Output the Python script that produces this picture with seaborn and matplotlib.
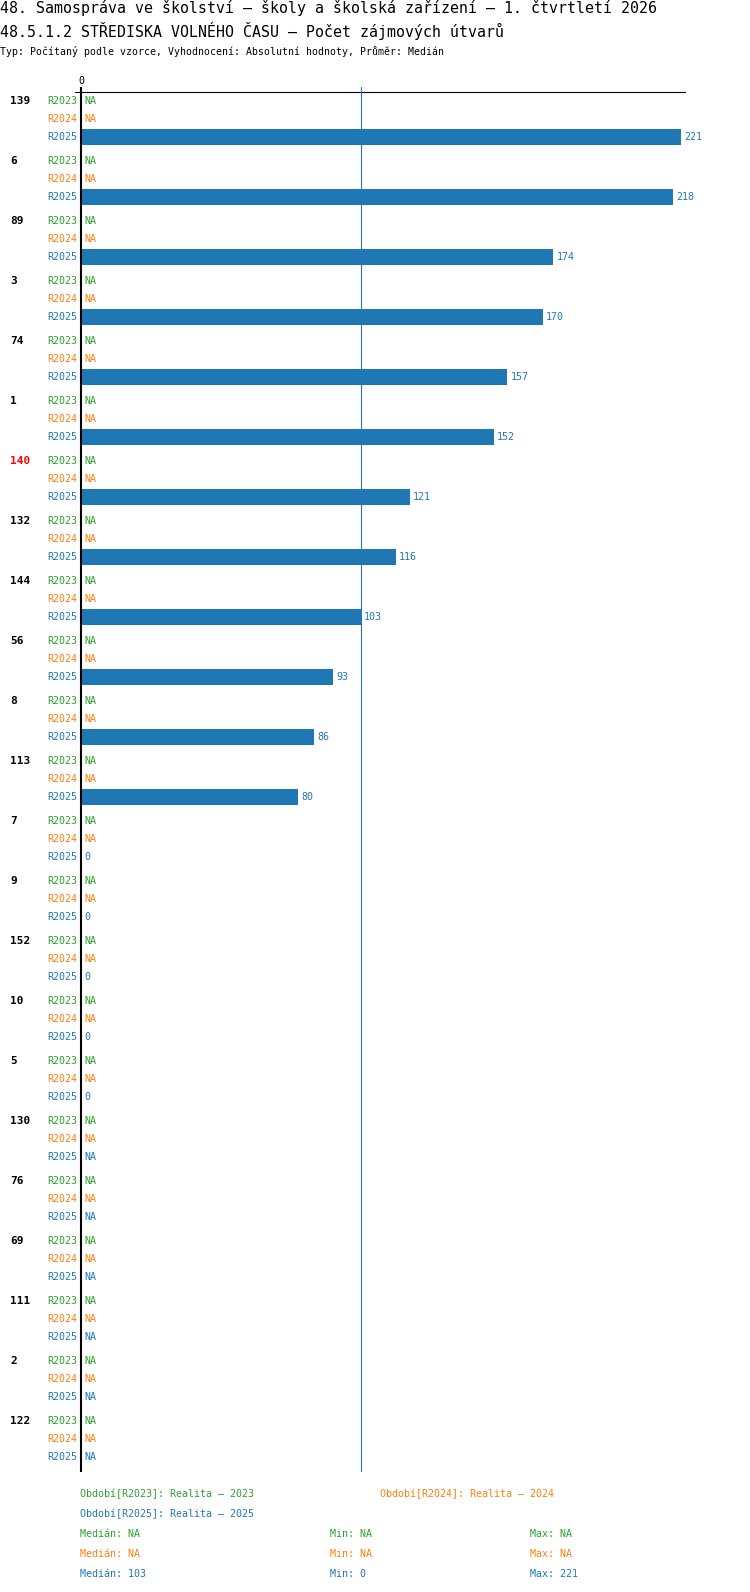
import numpy as np
import pandas as pd
import matplotlib
matplotlib.use("Agg")
import matplotlib.pyplot as plt
import matplotlib.transforms as mtransforms
import seaborn as sns

# data
groups = ["139", "6", "89", "3", "74", "1", "140", "132", "144", "56", "8", "113",
          "7", "9", "152", "10", "5", "130", "76", "69", "111", "2", "122"]
highlighted = ["140"]
periods = ["R2023", "R2024", "R2025"]
period_names = ["Realita – 2023", "Realita – 2024", "Realita – 2025"]
r2023 = [np.nan] * len(groups)
r2024 = [np.nan] * len(groups)
r2025 = [221, 218, 174, 170, 157, 152, 121, 116, 103, 93, 86, 80, 0, 0, 0, 0, 0,
         np.nan, np.nan, np.nan, np.nan, np.nan, np.nan]
colors = ["#2ca02c", "#ff7f0e", "#1f77b4"]

title1 = "48. Samospráva ve školství – školy a školská zařízení – 1. čtvrtletí 2026"
title2 = "48.5.1.2 STŘEDISKA VOLNÉHO ČASU – Počet zájmových útvarů"
subtitle = "Typ: Počítaný podle vzorce, Vyhodnocení: Absolutní hodnoty, Průměr: Medián"

# layout in pixels
W, H = 750, 1592
FIRST_ROW = 101
GROUP_STEP = 60
ROW_STEP = 18
BAR_H = 16
PX_PER_UNIT = 600 / 221

series = [r2023, r2024, r2025]
rows = []
for g, name in enumerate(groups):
    for k, p in enumerate(periods):
        rows.append({"group": name, "period": p,
                     "pos": FIRST_ROW + g * GROUP_STEP + k * ROW_STEP,
                     "value": series[k][g]})
df = pd.DataFrame(rows)

sns.set_style("white")
plt.rcParams["font.family"] = ["DejaVu Sans Mono"]
plt.rcParams["text.color"] = "black"
plt.rcParams["xtick.color"] = "black"

fig = plt.figure(figsize=(W / 100, H / 100), dpi=100)
ax = fig.add_axes([75 / W, 1 - 1472 / H, 611 / W, (1472 - 87) / H])

bars = df[(df["period"] == "R2025") & df["value"].notna()]
sns.barplot(data=bars, x="value", y="pos", orient="y", native_scale=True,
            color=colors[2], saturation=1, width=BAR_H / GROUP_STEP,
            errorbar=None, linewidth=0, ax=ax)

ax.set_xlim(-6 / PX_PER_UNIT, 605 / PX_PER_UNIT)
ax.set_ylim(1472, 87)
for s in ax.spines.values():
    s.set_visible(False)
ax.set_xlabel("")
ax.set_ylabel("")
ax.xaxis.tick_top()
ax.set_xticks([0])
ax.set_yticks([])
ax.tick_params(axis="x", length=0, pad=0.5, labelsize=7.2, labelcolor="black")

med = np.nanmedian(r2025)
ax.axhline(92, color="black", lw=0.8, zorder=3)
ax.axvline(med, color=colors[2], lw=0.8, zorder=3)
ax.axvline(0, color="black", lw=1.5, zorder=4)

lab_tr = mtransforms.blended_transform_factory(fig.transFigure, ax.transData)
for _, r in df.iterrows():
    k = periods.index(r["period"])
    if k == 0:
        ax.text(10 / W, r["pos"], r["group"], transform=lab_tr, ha="left", va="center",
                fontsize=8, fontweight="bold",
                color="red" if r["group"] in highlighted else "black")
    ax.text(77 / W, r["pos"], r["period"], transform=lab_tr, ha="right", va="center",
            fontsize=7.2, color=colors[k])
    v = r["value"]
    txt = "NA" if np.isnan(v) else f"{int(v)}"
    ax.annotate(txt, xy=(0 if np.isnan(v) else v, r["pos"]), xytext=(2.2, 0),
                textcoords="offset points", ha="left", va="center",
                fontsize=7.2, color=colors[k], annotation_clip=False)

# titles
fig.text(0, 1 - 8.5 / H, title1, ha="left", va="center", fontsize=10.7, color="black")
fig.text(0, 1 - 30.5 / H, title2, ha="left", va="center", fontsize=10.7, color="black")
fig.text(0, 1 - 51.5 / H, subtitle, ha="left", va="center", fontsize=7.1, color="black")

# legend
legend_pos = [(80, 1494), (380, 1494), (80, 1514)]
for k, p in enumerate(periods):
    x, y = legend_pos[k]
    fig.text(x / W, 1 - y / H, f"Období[{p}]: {period_names[k]}", ha="left",
             va="center", fontsize=7.2, color=colors[k])


def fmt(v):
    return "NA" if np.isnan(v) else f"{int(v)}"


for k, s in enumerate(series):
    arr = np.array(s, dtype=float)
    if np.all(np.isnan(arr)):
        md = mn = mx = np.nan
    else:
        md, mn, mx = np.nanmedian(arr), np.nanmin(arr), np.nanmax(arr)
    y = 1 - (1534 + k * 20) / H
    fig.text(80 / W, y, f"Medián: {fmt(md)}", ha="left", va="center", fontsize=7.2, color=colors[k])
    fig.text(330 / W, y, f"Min: {fmt(mn)}", ha="left", va="center", fontsize=7.2, color=colors[k])
    fig.text(530 / W, y, f"Max: {fmt(mx)}", ha="left", va="center", fontsize=7.2, color=colors[k])

fig.savefig("out.png", dpi=100)
